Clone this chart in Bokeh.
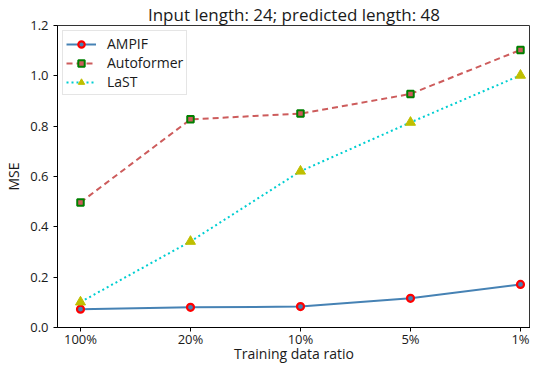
from bokeh.plotting import figure
from bokeh.models import Range1d, FixedTicker, Legend, LegendItem
from bokeh.embed import file_html
from bokeh.resources import INLINE

categories = ["100%", "20%", "10%", "5%", "1%"]
ampif = [0.073, 0.080, 0.083, 0.116, 0.171]
autoformer = [0.497, 0.827, 0.850, 0.928, 1.103]
last = [0.101, 0.342, 0.621, 0.815, 1.002]
y_ticks = [0.0, 0.2, 0.4, 0.6, 0.8, 1.0, 1.2]

FONT = "Open Sans"
x = list(range(len(categories)))

p = figure(width=530, height=365, output_backend="svg", toolbar_location=None,
           x_range=Range1d(-0.209, 4.091), y_range=Range1d(0, 1.2),
           min_border_left=57, min_border_right=0, min_border_top=0, min_border_bottom=36)

p.title.text = "Input length: 24; predicted length: 48"
p.title.align = "center"
p.title.text_font = FONT
p.title.text_font_size = "17px"
p.title.text_font_style = "normal"
p.title.text_color = "#1a1a1a"
p.title.standoff = 0
p.title.offset = 0

p.grid.visible = False
p.outline_line_color = "#333333"
p.outline_line_width = 1
p.background_fill_color = "white"
p.border_fill_color = "white"

p.xaxis.ticker = FixedTicker(ticks=x)
p.xaxis.major_label_overrides = {i: c for i, c in enumerate(categories)}
p.yaxis.ticker = FixedTicker(ticks=y_ticks)
p.yaxis.major_label_overrides = {t: f"{t:.1f}" for t in y_ticks}
p.xaxis.axis_label = "Training data ratio"
p.yaxis.axis_label = "MSE"
for ax in (p.xaxis, p.yaxis):
    ax.axis_label_text_font = FONT
    ax.axis_label_text_font_size = "14px"
    ax.axis_label_text_font_style = "normal"
    ax.axis_label_text_color = "#1a1a1a"
    ax.major_label_text_font = FONT
    ax.major_label_text_font_size = "13px"
    ax.major_label_text_color = "#1a1a1a"
    ax.major_tick_in = 0
    ax.major_tick_out = 4
    ax.minor_tick_line_color = None
    ax.axis_line_color = "black"
    ax.major_tick_line_color = "black"
p.xaxis.major_label_standoff = -2
p.xaxis.axis_label_standoff = -7
p.yaxis.major_label_standoff = 5
p.yaxis.axis_label_standoff = 4

l1 = p.line(x, ampif, line_color="#4682b4", line_width=2)
s1 = p.scatter(x, ampif, marker="circle", size=7, fill_color="#4682b4",
               line_color="red", line_width=2.2)
l2 = p.line(x, autoformer, line_color="indianred", line_width=2, line_dash="6 4")
s2 = p.scatter(x, autoformer, marker="square", size=6.5, fill_color="indianred",
               line_color="green", line_width=2)
l3 = p.line(x, last, line_color="darkturquoise", line_width=2, line_dash="2 3")
s3 = p.scatter(x, last, marker="triangle", size=10, fill_color="#bfbf00",
               line_color="#bfbf00", line_width=1)

legend = Legend(items=[LegendItem(label="AMPIF", renderers=[l1, s1]),
                       LegendItem(label="Autoformer", renderers=[l2, s2]),
                       LegendItem(label="LaST", renderers=[l3, s3])],
                location="top_left")
legend.label_text_font = FONT
legend.label_text_font_size = "14px"
legend.label_text_color = "#1a1a1a"
legend.glyph_width = 30
legend.glyph_height = 16
legend.label_height = 16
legend.spacing = 0
legend.padding = 3
legend.margin = 5
legend.label_standoff = 11
legend.border_line_color = "#cccccc"
legend.border_line_width = 1
legend.background_fill_alpha = 0.9
p.add_layout(legend)

open("out.html", "w").write(file_html(p, INLINE))
